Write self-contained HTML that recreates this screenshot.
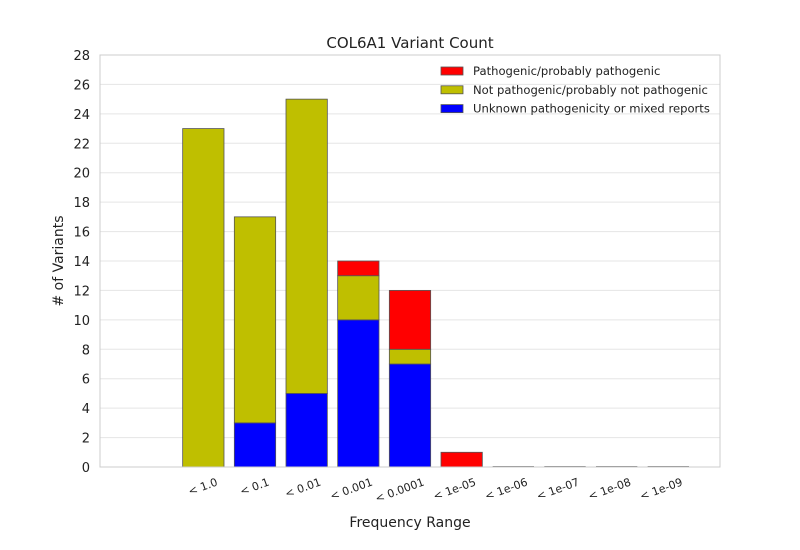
<!DOCTYPE html>
<html><head><meta charset="utf-8"><style>
body{margin:0;background:#fff;}
svg{display:block;font-family:"DejaVu Sans","Liberation Sans",sans-serif;}
</style></head><body>
<svg id="chart" width="800" height="550"></svg>
<script>
const categories = ["< 1.0","< 0.1","< 0.01","< 0.001","< 0.0001","< 1e-05","< 1e-06","< 1e-07","< 1e-08","< 1e-09"];
const unknownVals = [0,3,5,10,7,0,0,0,0,0];
const notPathVals = [23,14,20,3,1,0,0,0,0,0];
const pathVals = [0,0,0,1,4,1,0,0,0,0];
const yTicks = [0,2,4,6,8,10,12,14,16,18,20,22,24,26,28];

const NS="http://www.w3.org/2000/svg";
const svg=document.getElementById('chart');
const L=100,R=720,T=55,B=467,YMAX=28,XMAX=12;
const y=v=>B-(v/YMAX)*(B-T);
const slot=(R-L)/XMAX;
const x=i=>L+(i+2)*slot;
function mk(tag,attrs,parent){const e=document.createElementNS(NS,tag);for(const k in attrs)e.setAttribute(k,attrs[k]);(parent||svg).appendChild(e);return e;}

const grid=mk('g',{});


yTicks.forEach(t=>{
  mk('line',{x1:L,x2:R,y1:y(t),y2:y(t),stroke:'#e5e5e5','stroke-width':1},grid);
  const tx=mk('text',{x:L-10,y:y(t)+5,'text-anchor':'end','font-size':13,fill:'#222'});
  tx.textContent=t;
  
  
});

const bars=mk('g',{});


const w=slot*0.8;
categories.forEach((c,i)=>{
  const cx=x(i);
  let base=0;
  [[unknownVals,'#0000ff','bar-unknown'],[notPathVals,'#bfbf00','bar-not-pathogenic'],[pathVals,'#ff0000','bar-pathogenic']].forEach(([arr,col,nm])=>{
    const v=arr[i];
    if(v>0){
      const r=mk('rect',{x:cx-w/2,y:y(base+v),width:w,height:y(base)-y(base+v),fill:col,stroke:'#555','stroke-width':0.8},bars);
      
      
    }
    base+=v;
  });
  if(base===0){
    const z=mk('line',{x1:cx-w/2,x2:cx+w/2,y1:y(0)-0.5,y2:y(0)-0.5,stroke:'#777','stroke-width':1},bars);
    
    
  }
  const lb=mk('text',{x:cx+15,y:485,'text-anchor':'end','font-size':11,fill:'#222',transform:`rotate(-20 ${cx+15} 485)`});
  lb.textContent=c;
  
  
});

const frame=mk('rect',{x:L,y:T,width:R-L,height:B-T,fill:'none',stroke:'#ccc','stroke-width':1});



const title=mk('text',{x:410,y:48,'text-anchor':'middle','font-size':15,fill:'#222'});
title.textContent='COL6A1 Variant Count';


const xt=mk('text',{x:410,y:527,'text-anchor':'middle','font-size':14,fill:'#222'});
xt.textContent='Frequency Range';


const yt=mk('text',{x:63,y:261,'text-anchor':'middle','font-size':14,fill:'#222',transform:'rotate(-90 63 261)'});
yt.textContent='# of Variants';



const leg=mk('g',{});


[['Pathogenic/probably pathogenic','#ff0000'],['Not pathogenic/probably not pathogenic','#bfbf00'],['Unknown pathogenicity or mixed reports','#0000ff']].forEach(([t,c],k)=>{
  const yy=71+k*18.8;
  const sw=mk('rect',{x:441,y:yy-4,width:22,height:8,fill:c,stroke:'#555','stroke-width':0.8},leg);
  
  
  const tx=mk('text',{x:473,y:yy+4,'font-size':11.6,fill:'#222'},leg);
  tx.textContent=t;
  
  
});
</script>
</body></html>
